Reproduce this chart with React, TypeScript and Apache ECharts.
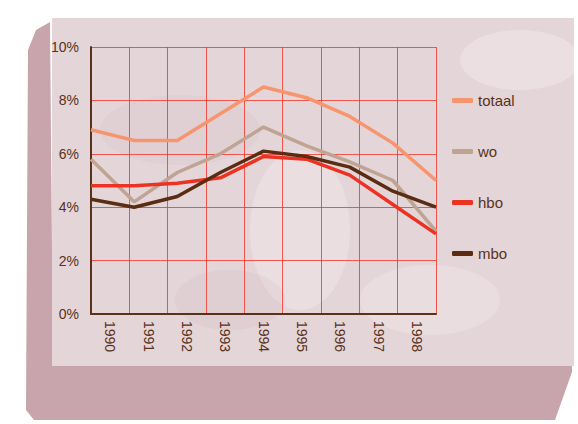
import React, { useEffect, useRef } from "react";
import * as echarts from "echarts";

const years = ["1990", "1991", "1992", "1993", "1994", "1995", "1996", "1997", "1998"];
const totaal = [6.9, 6.5, 6.5, 7.5, 8.5, 8.1, 7.4, 6.4, 5.0];
const wo = [5.8, 4.2, 5.3, 6.0, 7.0, 6.3, 5.7, 5.0, 3.1];
const hbo = [4.8, 4.8, 4.9, 5.1, 5.9, 5.8, 5.2, 4.1, 3.0];
const mbo = [4.3, 4.0, 4.4, 5.3, 6.1, 5.9, 5.5, 4.6, 4.0];
const seriesNames = ["totaal", "wo", "hbo", "mbo"];
const seriesColors = ["#f7956f", "#bfa393", "#ec3323", "#5a2c12"];
const yTicks = [0, 2, 4, 6, 8, 10];

const BROWN = "#5a3218";
const GRID_RED = "rgba(236,52,40,0.8)";
const FONT = "Liberation Sans, Arial, sans-serif";

export default function App() {
  const ref = useRef<HTMLDivElement>(null);
  useEffect(() => {
    if (!ref.current) return;
    const chart = echarts.init(ref.current, undefined, { renderer: "svg" });
    const values = [totaal, wo, hbo, mbo];
    chart.setOption({
      animation: false,
      backgroundColor: "#ffffff",
      graphic: [
        {
          type: "polygon",
          z: -10,
          shape: { points: [[50, 22], [36, 30], [28, 50], [26, 410], [34, 420], [555, 420], [572, 372], [572, 360], [53, 360]] },
          style: { fill: "#c8a5ad" },
          silent: true,
        },
        {
          type: "rect",
          z: -9,
          shape: { x: 52, y: 18, width: 522, height: 348 },
          style: { fill: "#e4d5d8" },
          silent: true,
        },
        { type: "ellipse", z: -8, shape: { cx: 300, cy: 230, rx: 50, ry: 80 }, style: { fill: "rgba(255,255,255,0.22)" }, silent: true },
        { type: "ellipse", z: -8, shape: { cx: 180, cy: 130, rx: 80, ry: 35 }, style: { fill: "rgba(205,180,186,0.15)" }, silent: true },
        { type: "ellipse", z: -8, shape: { cx: 430, cy: 300, rx: 70, ry: 35 }, style: { fill: "rgba(255,255,255,0.2)" }, silent: true },
        { type: "ellipse", z: -8, shape: { cx: 520, cy: 60, rx: 60, ry: 30 }, style: { fill: "rgba(255,255,255,0.25)" }, silent: true },
        { type: "ellipse", z: -8, shape: { cx: 230, cy: 300, rx: 55, ry: 30 }, style: { fill: "rgba(200,170,178,0.14)" }, silent: true },
      ],
      grid: { left: 91, right: 142, top: 47, bottom: 110 },
      legend: {
        orient: "vertical",
        left: 447,
        top: 88,
        itemWidth: 21,
        itemHeight: 5,
        itemGap: 36,
        icon: "roundRect",
        textStyle: { color: BROWN, fontSize: 15, fontFamily: FONT },
        data: seriesNames,
      },
      xAxis: [
        {
          type: "category",
          data: years,
          boundaryGap: true,
          position: "bottom",
          axisLine: { show: true, lineStyle: { color: BROWN, width: 2 } },
          axisTick: { show: false },
          splitLine: { show: true, interval: 0, lineStyle: { color: GRID_RED, width: 1 } },
          axisLabel: { rotate: -90, color: BROWN, fontSize: 14, fontFamily: FONT, margin: 7, interval: 0 },
          z: 3,
        },
        {
          type: "category",
          data: years,
          boundaryGap: false,
          show: false,
        },
      ],
      yAxis: {
        type: "value",
        min: 0,
        max: 10,
        interval: 2,
        axisLine: { show: true, lineStyle: { color: BROWN, width: 2 } },
        axisTick: { show: false },
        splitLine: { show: true, lineStyle: { color: GRID_RED, width: 1 } },
        axisLabel: {
          color: BROWN,
          fontSize: 14,
          fontFamily: FONT,
          margin: 12,
          formatter: (v: number) => (yTicks.includes(v) ? `${v}%` : ""),
        },
        z: 3,
      },
      series: seriesNames.map((name, i) => ({
        name,
        type: "line",
        xAxisIndex: 1,
        data: values[i],
        symbol: "none",
        lineStyle: { color: seriesColors[i], width: 3.5 },
        itemStyle: { color: seriesColors[i] },
        z: 5 + i,
      })),
    });
    return () => chart.dispose();
  }, []);
  return <div ref={ref} style={{ position: "absolute", left: 0, top: 0, width: 578, height: 424 }} />;
}
